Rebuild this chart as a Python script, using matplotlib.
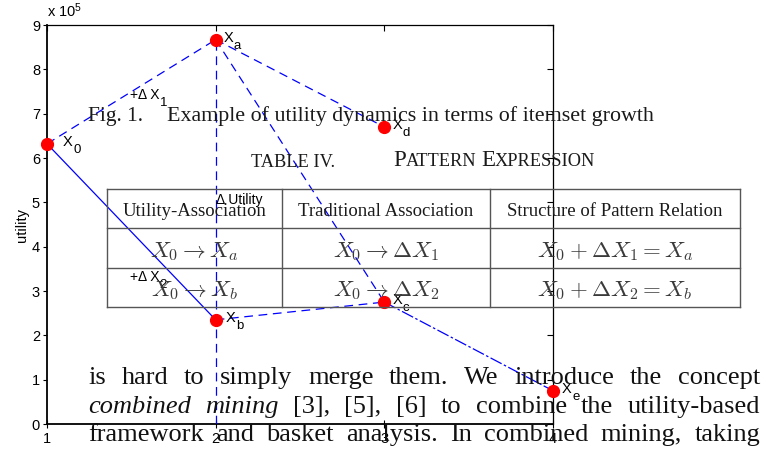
import matplotlib
matplotlib.use("Agg")
import matplotlib.pyplot as plt
from matplotlib.offsetbox import TextArea, HPacker, AnchoredOffsetbox

plt.rcParams["mathtext.fontset"] = "custom"
plt.rcParams["mathtext.rm"] = "Liberation Sans"
plt.rcParams["mathtext.it"] = "Liberation Sans"
plt.rcParams["font.family"] = ["Liberation Sans", "DejaVu Sans"]

# ---- data: itemset utility dynamics ----
node_names = ["X0", "Xa", "Xb", "Xc", "Xd", "Xe"]
node_main = ["X", "X", "X", "X", "X", "X"]
node_sub = ["0", "a", "b", "c", "d", "e"]
node_x = [1, 2, 2, 3, 3, 4]
node_utility = [6.32e5, 8.67e5, 2.35e5, 2.75e5, 6.70e5, 0.75e5]

# edges between nodes (start, end, line style)
edges = [
    ("X0", "Xa", "dashed"),
    ("Xa", "Xd", "dashed"),
    ("Xa", "Xc", "dashed"),
    ("X0", "Xb", "solid"),
    ("Xb", "Xc", "dashed"),
    ("Xc", "Xe", "dashdot"),
]
# vertical utility change at x = 2
delta_x = 2
delta_range = [0, 8.67e5]

# annotations (x, utility, main text, subscript)
annot_x = [1.49, 1.49, 2.0]
annot_y = [7.32e5, 3.23e5, 4.97e5]
annot_main = ["+Δ X", "+Δ X", "Δ Utility"]
annot_sub = ["1", "2", ""]

x_ticks = [1, 2, 3, 4]
y_ticks = [0, 1e5, 2e5, 3e5, 4e5, 5e5, 6e5, 7e5, 8e5, 9e5]
y_tick_labels = ["0", "1", "2", "3", "4", "5", "6", "7", "8", "9"]

# ---- overlaid page text ----
caption_num = "Fig. 1."
caption_text = "Example of utility dynamics in terms of itemset growth"
table_label = "TABLE IV."
table_name = [("P", 16.5), ("ATTERN", 13.2), (" ", 13.2), ("E", 16.5), ("XPRESSION", 13.2)]
table_header = ["Utility-Association", "Traditional Association",
                "Structure of Pattern Relation"]
table_rows = [
    [r"$X_0 \rightarrow X_a$", r"$X_0 \rightarrow \Delta X_1$", r"$X_0 + \Delta X_1 = X_a$"],
    [r"$X_0 \rightarrow X_b$", r"$X_0 \rightarrow \Delta X_2$", r"$X_0 + \Delta X_2 = X_b$"],
]
paragraph = [
    [("is", "normal"), ("hard", "normal"), ("to", "normal"), ("simply", "normal"),
     ("merge", "normal"), ("them.", "normal"), ("We", "normal"), ("introduce", "normal"),
     ("the", "normal"), ("concept", "normal")],
    [("combined", "italic"), ("mining", "italic"), ("[3],", "normal"), ("[5],", "normal"),
     ("[6]", "normal"), ("to", "normal"), ("combine", "normal"), ("the", "normal"),
     ("utility-based", "normal")],
    [("framework", "normal"), ("and", "normal"), ("basket", "normal"), ("analysis.", "normal"),
     ("In", "normal"), ("combined", "normal"), ("mining,", "normal"), ("taking", "normal")],
]

W, H = 781, 451
fig = plt.figure(figsize=(W / 100, H / 100), dpi=100)
fig.patch.set_facecolor("white")


def fx(px):
    return px / W


def fy(py):
    return 1 - py / H


ax = fig.add_axes([fx(47), fy(424), fx(553) - fx(47), (424 - 25) / H])
ax.set_xlim(1, 4)
ax.set_ylim(0, 9e5)

idx = {n: i for i, n in enumerate(node_names)}
blue = "#0000ff"
for a, b, style in edges:
    i, j = idx[a], idx[b]
    xs = [node_x[i], node_x[j]]
    ys = [node_utility[i], node_utility[j]]
    if style == "solid":
        ax.plot(xs, ys, color=blue, lw=0.9, zorder=3)
    elif style == "dashed":
        ax.plot(xs, ys, color=blue, lw=0.9, dashes=(7, 4.5), zorder=3)
    else:
        ax.plot(xs, ys, color=blue, lw=0.9, dashes=(10, 2, 2, 2), zorder=3)
ax.plot([delta_x, delta_x], delta_range, color=blue, lw=0.9, dashes=(7, 4.5), zorder=3)

ax.plot(node_x, node_utility, "o", color="#ff0000", markersize=8.5, zorder=4,
        clip_on=False, linestyle="none")


def sub_label(x, y, main, sub, dx, dy, size=10.5, subsize=9.5):
    t = ax.annotate(main, (x, y), xytext=(dx, dy), textcoords="offset pixels",
                    fontsize=size, va="baseline", ha="left", zorder=5,
                    annotation_clip=False)
    if sub:
        r = fig.canvas.get_renderer()
        w = t.get_window_extent(r).width
        ax.annotate(sub, (x, y), xytext=(dx + w + 0.5, dy - 7), textcoords="offset pixels",
                    fontsize=subsize, va="baseline", ha="left", zorder=5,
                    annotation_clip=False)


label_dx = [16, 8, 10, 8, 8, 9]
for x, y, m, s, dx in zip(node_x, node_utility, node_main, node_sub, label_dx):
    sub_label(x, y, m, s, dx, -2)

for x, y, m, s in zip(annot_x, annot_y, annot_main, annot_sub):
    sub_label(x, y, m, s, 0, 0, size=10)

ax.set_xticks(x_ticks)
ax.set_xticklabels([str(v) for v in x_ticks])
ax.set_yticks(y_ticks)
ax.set_yticklabels(y_tick_labels)
ax.tick_params(axis="y", direction="out", length=3, width=0.8, labelsize=10.5, pad=2)
ax.tick_params(axis="x", direction="inout", length=6, width=0.8, labelsize=10.5, pad=3)
for s in ["left", "bottom"]:
    ax.spines[s].set_linewidth(1.3)
for s in ["top", "right"]:
    ax.spines[s].set_linewidth(0.9)

top = ax.secondary_xaxis("top")
top.set_xticks(x_ticks)
top.tick_params(direction="in", length=4, width=0.8, labeltop=False)
top.spines["top"].set_visible(False)
right = ax.secondary_yaxis("right")
right.set_yticks(y_ticks)
right.tick_params(direction="in", length=4, width=0.8, labelright=False)
right.spines["right"].set_visible(False)

ax.set_ylabel("utility", fontsize=10.5, labelpad=2)
fig.text(fx(47), fy(17), r"x 10$^5$", fontsize=10.5, ha="left", va="baseline")

# ---- page text layer ----
serif = ["Liberation Serif", "DejaVu Serif"]
ink = "#1a1a1a"
fig.text(fx(88), fy(121), caption_num, family=serif, fontsize=15.5, color=ink,
         va="baseline")
fig.text(fx(167), fy(121), caption_text, family=serif, fontsize=15.8, color=ink,
         va="baseline")

fig.text(fx(251), fy(167), table_label, family=serif, fontsize=13.2, color=ink,
         va="baseline")
boxes = [TextArea(t, textprops=dict(family=serif, fontsize=s, color=ink))
         for t, s in table_name]
pack = HPacker(children=boxes, align="baseline", pad=0, sep=0)
ab = AnchoredOffsetbox(loc="lower left", child=pack, frameon=False, pad=0,
                       borderpad=0, bbox_to_anchor=(fx(393), fy(171)),
                       bbox_transform=fig.transFigure)
fig.add_artist(ab)

# table grid
tab_left, tab_right = 107, 740
col_edges = [107, 282, 490, 740]
row_edges = [189, 228, 268, 307]
grid = "#555555"
for ry in row_edges:
    fig.add_artist(plt.Line2D([fx(tab_left), fx(tab_right)], [fy(ry), fy(ry)],
                              color=grid, lw=1.0, transform=fig.transFigure))
for cx in col_edges:
    fig.add_artist(plt.Line2D([fx(cx), fx(cx)], [fy(row_edges[0]), fy(row_edges[-1])],
                              color=grid, lw=1.0, transform=fig.transFigure))
centers = [(col_edges[k] + col_edges[k + 1]) / 2 for k in range(3)]
for c, t in zip(centers, table_header):
    fig.text(fx(c), fy(216), t, family=serif, fontsize=13.5, color=ink,
             ha="center", va="baseline")
row_base = [257, 296]
for rb, row in zip(row_base, table_rows):
    for c, t in zip(centers, row):
        fig.text(fx(c), fy(rb), t, fontsize=16.5, math_fontfamily="cm", color="#3a3a3a",
                 ha="center", va="baseline")

# justified paragraph
renderer = fig.canvas.get_renderer()
par_left, par_right = 88, 760
par_base = [384, 413, 441]
for base, words in zip(par_base, paragraph):
    items = [fig.text(0, 0, w, family=serif, style=st, fontsize=19, color="#111111",
                      va="baseline", ha="left") for w, st in words]
    widths = [t.get_window_extent(renderer).width for t in items]
    gap = (par_right - par_left - sum(widths)) / (len(items) - 1)
    xcur = par_left
    for t, wd in zip(items, widths):
        t.set_position((fx(xcur), fy(base)))
        xcur += wd + gap

fig.savefig("out.png", dpi=100)
